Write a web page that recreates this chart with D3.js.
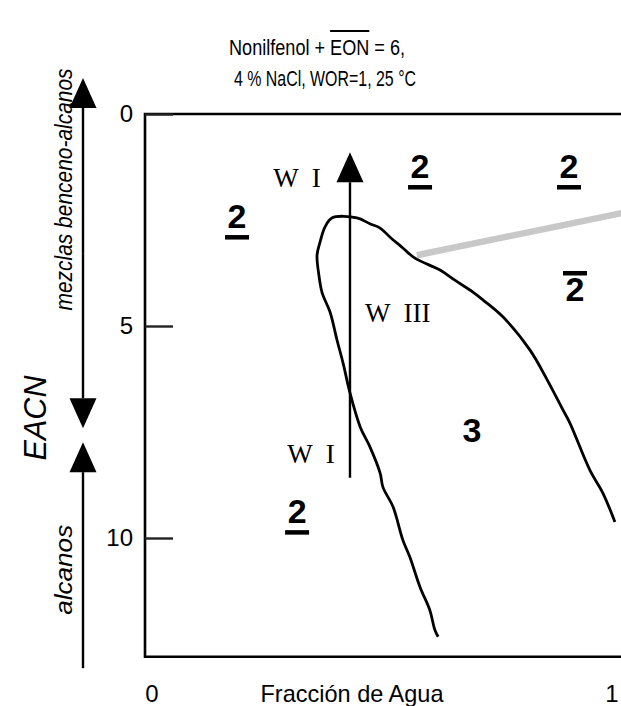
<!DOCTYPE html>
<html>
<head>
<meta charset="utf-8">
<script src="https://cdn.jsdelivr.net/npm/d3@7"></script>
<style>
  body { margin: 0; background: #fff; }
  text { font-family: "Liberation Sans", Arial, Helvetica, sans-serif; }
  .serif { font-family: "Liberation Serif", "Times New Roman", serif; white-space: pre; }
</style>
</head>
<body>
<div id="chart"></div>
<script>
// boundary of the three phase zone, read point by point (water fraction / EACN)
let boundaryFrac = [0.621, 0.614, 0.603, 0.582, 0.560, 0.545, 0.524, 0.502, 0.496, 0.474,
                    0.453, 0.431, 0.416, 0.403, 0.388, 0.371, 0.364, 0.360, 0.366, 0.377,
                    0.392, 0.446, 0.474, 0.496, 0.517, 0.545, 0.571, 0.625, 0.657, 0.696,
                    0.718, 0.761, 0.819, 0.856, 0.890, 0.905, 0.948, 0.976, 1.002];
let boundaryEacn = [12.33, 12.17, 11.70, 11.16, 10.45, 10.05, 9.27, 8.80, 8.47, 7.85,
                    7.38, 6.58, 5.87, 5.33, 4.67, 4.22, 3.80, 3.33, 3.04, 2.67,
                    2.45, 2.45, 2.59, 2.69, 2.90, 3.16, 3.40, 3.68, 3.92, 4.20,
                    4.39, 4.79, 5.57, 6.27, 6.98, 7.29, 8.40, 8.94, 9.62];

// grey tie line
let tieFrac = [0.575, 1.02];
let tieEacn = [3.33, 2.33];

// formulation scan arrow
let scanFrac = 0.431;
let scanEacn = [8.58, 0.9];

// oil ranges on the left side
let oilNames = ["mezclas benceno-alcanos", "alcanos"];
let oilFrom = [7.41, 7.74];
let oilTo = [-0.85, 13.07];
let oilLabelEacn = [1.78, 10.75];

let yTicks = [0, 5, 10];
let xTicks = [0, 1];

// phase labels
let phaseText = ["2", "2", "2", "2", "3", "2"];
let phaseMark = ["under", "under", "under", "over", "none", "under"];
let phaseFrac = [0.1875, 0.582, 0.903, 0.916, 0.694, 0.317];
let phaseEacn = [2.69, 1.51, 1.51, 4.41, 7.74, 9.65];

// Winsor labels
let winsorText = ["W  I", "W  III", "W  I"];
let winsorFrac = [0.317, 0.534, 0.347];
let winsorEacn = [1.72, 4.91, 8.23];

let svgWidth = 621;
let svgHeight = 706;

let svg = d3.select("#chart")
    .append("svg")
    .attr("width", svgWidth)
    .attr("height", svgHeight);

let x = d3.scaleLinear().domain([0, 1]).range([150, 614]);
let y = d3.scaleLinear().domain([0, 10]).range([114, 538]);

let frameLeft = 145;
let frameBottom = y(12.8);

// frame: left, top and bottom sides (right side runs off the picture)
svg.append("path")
    .attr("d", `M${svgWidth + 5},${y(0)} H${frameLeft} V${frameBottom} H${svgWidth + 5}`)
    .attr("fill", "none")
    .attr("stroke", "#000")
    .attr("stroke-width", 2.6);

// y axis ticks pointing inwards
let leftAxis = d3.axisLeft(y)
    .tickValues(yTicks)
    .tickSize(-28)
    .tickSizeOuter(0)
    .tickPadding(12);

let yAxisG = svg.append("g")
    .attr("transform", `translate(${frameLeft},0)`)
    .call(leftAxis);
yAxisG.select(".domain").remove();
yAxisG.selectAll("line").attr("stroke", "#222").attr("stroke-width", 2.4);
yAxisG.selectAll("text")
    .attr("font-size", 24)
    .attr("fill", "#000")
    .attr("font-family", "Liberation Sans, Arial, sans-serif");

// x tick labels
svg.selectAll(".xlab")
    .data(xTicks)
    .enter()
    .append("text")
    .attr("x", d => x(d) + (d == 0 ? 2 : -2))
    .attr("y", 702)
    .attr("text-anchor", "middle")
    .attr("font-size", 24)
    .text(d => d);

svg.append("text")
    .attr("x", 352)
    .attr("y", 702)
    .attr("text-anchor", "middle")
    .attr("font-size", 24)
    .attr("textLength", 183)
    .attr("lengthAdjust", "spacingAndGlyphs")
    .text("Fracción de Agua");

// title, with bar over EON
let title1 = "Nonilfenol + EON = 6,";
let t1 = svg.append("text")
    .attr("x", 229)
    .attr("y", 55)
    .attr("font-size", 22)
    .attr("textLength", 176)
    .attr("lengthAdjust", "spacingAndGlyphs")
    .text(title1);
let eonStart = title1.indexOf("EON");
let e0 = t1.node().getExtentOfChar(eonStart);
let e2 = t1.node().getExtentOfChar(eonStart + 2);
svg.append("line")
    .attr("x1", e0.x).attr("x2", e2.x + e2.width)
    .attr("y1", 31).attr("y2", 31)
    .attr("stroke", "#000").attr("stroke-width", 2);

svg.append("text")
    .attr("x", 234)
    .attr("y", 86)
    .attr("font-size", 22)
    .attr("textLength", 182)
    .attr("lengthAdjust", "spacingAndGlyphs")
    .text("4 % NaCl, WOR=1, 25 °C");

// grey tie line
svg.append("line")
    .attr("x1", x(tieFrac[0])).attr("y1", y(tieEacn[0]))
    .attr("x2", x(tieFrac[1])).attr("y2", y(tieEacn[1]))
    .attr("stroke", "#c8c8c8")
    .attr("stroke-width", 6.5);

// three phase boundary
let boundary = boundaryFrac.map((f, i) => [f, boundaryEacn[i]]);
let line = d3.line()
    .x(d => x(d[0]))
    .y(d => y(d[1]))
    .curve(d3.curveCatmullRom.alpha(0.5));

svg.append("path")
    .datum(boundary)
    .attr("d", line)
    .attr("fill", "none")
    .attr("stroke", "#000")
    .attr("stroke-width", 2.8)
    .attr("stroke-linejoin", "round");

// arrow helper: shaft from (x, ya) to (x, yb) with head at yb
function arrow(px, ya, yb) {
    let dir = yb < ya ? -1 : 1;
    let headLen = 30, headHalf = 13.5;
    let base = yb - dir * headLen;
    svg.append("line")
        .attr("x1", px).attr("x2", px)
        .attr("y1", ya).attr("y2", base)
        .attr("stroke", "#000").attr("stroke-width", 2.4);
    svg.append("path")
        .attr("d", `M${px},${yb} L${px - headHalf},${base} L${px + headHalf},${base} Z`)
        .attr("fill", "#000");
}

arrow(x(scanFrac), y(scanEacn[0]), y(scanEacn[1]));

// oil ranges on the left
let oilX = 83;
oilNames.forEach(function(name, i) {
    if (i == 0) {
        // double headed
        let mid = (y(oilFrom[i]) + y(oilTo[i])) / 2;
        arrow(oilX, mid, y(oilTo[i]));
        arrow(oilX, mid, y(oilFrom[i]));
    } else {
        arrow(oilX, y(oilTo[i]), y(oilFrom[i]));
    }
});

let oilTextLen = [242, 90];
oilNames.forEach(function(name, i) {
    svg.append("text")
        .attr("transform", `translate(72, ${y(oilLabelEacn[i])}) rotate(-90)`)
        .attr("text-anchor", "middle")
        .attr("font-style", "italic")
        .attr("font-size", 24)
        .attr("textLength", oilTextLen[i])
        .attr("lengthAdjust", "spacingAndGlyphs")
        .text(name);
});

svg.append("text")
    .attr("transform", `translate(46, 418) rotate(-90)`)
    .attr("text-anchor", "middle")
    .attr("font-style", "italic")
    .attr("font-size", 32)
    .attr("textLength", 85)
    .attr("lengthAdjust", "spacingAndGlyphs")
    .text("EACN");

// Winsor labels
svg.selectAll(".winsor")
    .data(winsorText)
    .enter()
    .append("text")
    .attr("class", "serif")
    .attr("x", (d, i) => x(winsorFrac[i]))
    .attr("y", (d, i) => y(winsorEacn[i]))
    .attr("text-anchor", "middle")
    .attr("font-size", 27)
    .text(d => d);

// phase labels, underlined or overlined
let phaseG = svg.selectAll(".phase")
    .data(phaseText)
    .enter()
    .append("g");

phaseG.append("text")
    .attr("x", (d, i) => x(phaseFrac[i]))
    .attr("y", (d, i) => y(phaseEacn[i]))
    .attr("text-anchor", "middle")
    .attr("font-size", 34)
    .attr("font-weight", "bold")
    .text(d => d);

phaseG.each(function(d, i) {
    if (phaseMark[i] == "none") return;
    let cx = x(phaseFrac[i]);
    let base = y(phaseEacn[i]);
    let yy = phaseMark[i] == "under" ? base + 7 : base - 30;
    d3.select(this).append("rect")
        .attr("x", cx - 12)
        .attr("y", yy)
        .attr("width", 24)
        .attr("height", 4.5)
        .attr("fill", "#000");
});
</script>
</body>
</html>
